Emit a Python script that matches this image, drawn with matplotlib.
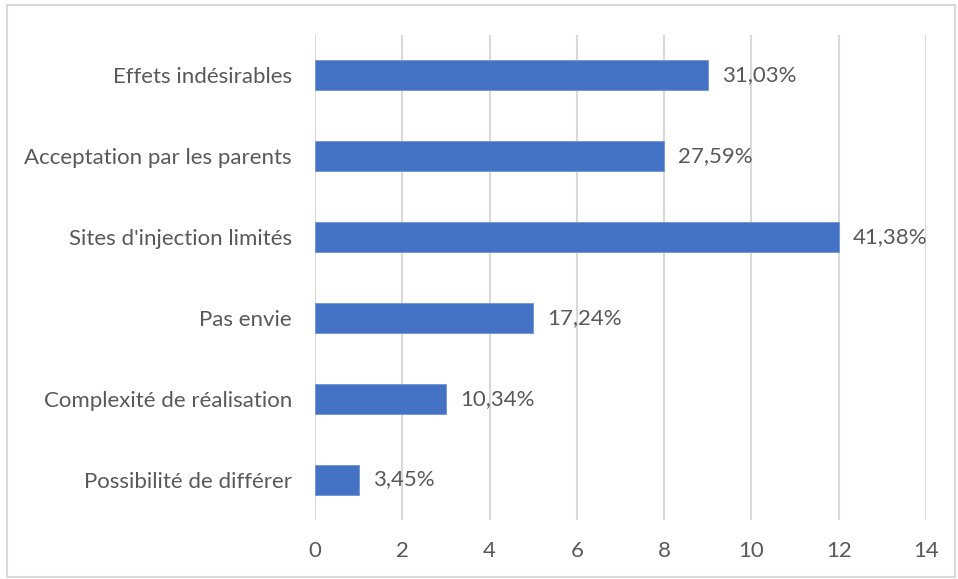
import matplotlib.pyplot as plt
from matplotlib.patches import Rectangle

# données du graphique
categories = ["Effets indésirables", "Acceptation par les parents", "Sites d'injection limités",
              "Pas envie", "Complexité de réalisation", "Possibilité de différer"]
valeurs = [9, 8, 12, 5, 3, 1]
etiquettes = ["31,03%", "27,59%", "41,38%", "17,24%", "10,34%", "3,45%"]
graduations = [0, 2, 4, 6, 8, 10, 12, 14]

plt.rcParams['font.family'] = ['Lato', 'DejaVu Sans']
texte = '#595959'
taille = 16

fig = plt.figure(figsize=(9.58, 5.79), dpi=100)
ax = fig.add_axes([315 / 958, 1 - 520 / 579, (926 - 315) / 958, 485 / 579])

# cadre gris autour du graphique
fig.patches.append(Rectangle((7 / 958, 2 / 579), 948 / 958, 572 / 579, transform=fig.transFigure,
                             fill=False, edgecolor='#d9d9d9', linewidth=1.5))

y = list(range(len(categories)))
ax.barh(y, valeurs, height=0.37, color='#4472C4', edgecolor='#6f94d6', linewidth=0.6, zorder=3)
for yi, v, lab in zip(y, valeurs, etiquettes):
    ax.text(v + 0.32, yi, lab, va='center', ha='left', fontsize=taille, color=texte)

ax.set_ylim(len(categories) - 0.5, -0.5)
ax.set_xlim(0, 14)
ax.set_xticks(graduations)
ax.set_yticks(y)
ax.set_yticklabels(categories)
ax.tick_params(axis='y', length=0, pad=16.5, labelsize=taille, labelcolor=texte)
ax.tick_params(axis='x', length=0, pad=15, labelsize=taille, labelcolor=texte)
ax.grid(axis='x', color='#d9d9d9', linewidth=1.5, zorder=0)
for s in ax.spines.values():
    s.set_visible(False)

fig.savefig('out.png', dpi=100)
